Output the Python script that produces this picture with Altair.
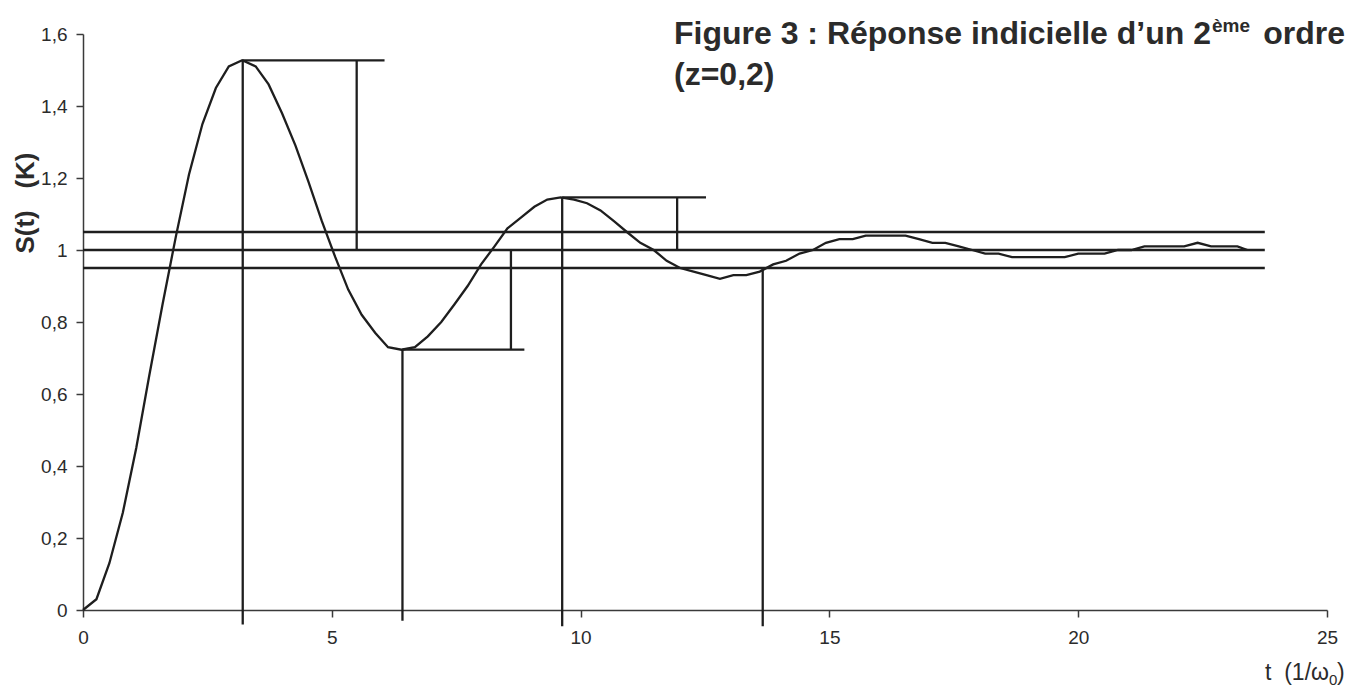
import altair as alt
import pandas as pd

# ---- data ----
t_vals = [0, 0.27, 0.53, 0.8, 1.07, 1.33, 1.6, 1.87, 2.13, 2.4,
          2.67, 2.93, 3.2, 3.47, 3.73, 4.0, 4.27, 4.53, 4.8, 5.07,
          5.33, 5.6, 5.87, 6.13, 6.4, 6.67, 6.93, 7.2, 7.47, 7.73,
          8.0, 8.27, 8.53, 8.8, 9.07, 9.33, 9.6, 9.87, 10.13, 10.4,
          10.67, 10.93, 11.2, 11.47, 11.73, 12.0, 12.27, 12.53, 12.8, 13.07,
          13.33, 13.6, 13.87, 14.13, 14.4, 14.67, 14.93, 15.2, 15.47, 15.73,
          16.0, 16.27, 16.53, 16.8, 17.07, 17.33, 17.6, 17.87, 18.13, 18.4,
          18.67, 18.93, 19.2, 19.47, 19.73, 20.0, 20.27, 20.53, 20.8, 21.07,
          21.33, 21.6, 21.87, 22.13, 22.4, 22.67, 22.93, 23.2, 23.4]
s_vals = [0.00, 0.03, 0.13, 0.27, 0.45, 0.65, 0.85, 1.04, 1.21, 1.35,
          1.45, 1.51, 1.527, 1.51, 1.46, 1.38, 1.29, 1.19, 1.08, 0.98,
          0.89, 0.82, 0.77, 0.73, 0.723, 0.73, 0.76, 0.80, 0.85, 0.90,
          0.96, 1.01, 1.06, 1.09, 1.12, 1.14, 1.146, 1.14, 1.13, 1.11,
          1.08, 1.05, 1.02, 1.00, 0.97, 0.95, 0.94, 0.93, 0.92, 0.93,
          0.93, 0.94, 0.96, 0.97, 0.99, 1.00, 1.02, 1.03, 1.03, 1.04,
          1.04, 1.04, 1.04, 1.03, 1.02, 1.02, 1.01, 1.00, 0.99, 0.99,
          0.98, 0.98, 0.98, 0.98, 0.98, 0.99, 0.99, 0.99, 1.00, 1.00,
          1.01, 1.01, 1.01, 1.01, 1.02, 1.01, 1.01, 1.01, 1.00]

# tolerance band lines (1 +/- 5 %)
band_y = [1.05, 1.0, 0.95]
band_x_end = 23.75

# construction segments
seg_x1 = [3.21, 3.21, 5.5, 6.42, 6.42, 8.6, 9.63, 9.63, 11.94, 13.66]
seg_x2 = [3.21, 6.06, 5.5, 6.42, 8.87, 8.6, 9.63, 12.52, 11.94, 13.66]
seg_y1 = [-0.04, 1.527, 1.0, -0.03, 0.723, 0.723, -0.045, 1.146, 1.0, -0.045]
seg_y2 = [1.527, 1.527, 1.527, 0.723, 0.723, 1.0, 1.146, 1.146, 1.146, 0.95]

x_ticks = [0, 5, 10, 15, 20, 25]
y_ticks = [0, 0.2, 0.4, 0.6, 0.8, 1.0, 1.2, 1.4, 1.6]

FONT = "Liberation Sans"
INK = "#1e1e1e"
TXT = "#2b2b2b"
AX = "#3a3a3a"

W, H = 1244, 576

xs = alt.Scale(domain=[0, 25], nice=False, zero=False)
ys = alt.Scale(domain=[0, 1.6], nice=False, zero=False)

x_axis = alt.Axis(title="", values=x_ticks, grid=False, tickSize=7,
                  labelPadding=11, labelFontSize=19, labelFont=FONT,
                  labelColor=TXT, domainColor=AX, tickColor=AX,
                  domainWidth=1.5, tickWidth=1.5, labelFlush=False)
y_axis = alt.Axis(title="", values=y_ticks, grid=False, tickSize=7,
                  labelPadding=9, labelFontSize=19, labelFont=FONT,
                  labelColor=TXT, domainColor=AX, tickColor=AX,
                  domainWidth=1.5, tickWidth=1.5, labelFlush=False,
                  labelExpr="replace(format(datum.value, '~g'), '.', ',')")

curve_df = pd.DataFrame({"t": t_vals, "s": s_vals})
band_df = pd.DataFrame({"y": band_y, "x1": [0] * len(band_y), "x2": [band_x_end] * len(band_y)})
seg_df = pd.DataFrame({"x1": seg_x1, "x2": seg_x2, "y1": seg_y1, "y2": seg_y2})

curve = alt.Chart(curve_df).mark_line(color=INK, strokeWidth=2.3).encode(
    x=alt.X("t:Q", scale=xs, axis=x_axis),
    y=alt.Y("s:Q", scale=ys, axis=y_axis),
)

band = alt.Chart(band_df).mark_rule(color=INK, strokeWidth=2.3).encode(
    x=alt.X("x1:Q", scale=xs, axis=x_axis),
    x2="x2:Q",
    y=alt.Y("y:Q", scale=ys, axis=y_axis),
)

segs = alt.Chart(seg_df).mark_rule(color=INK, strokeWidth=2.3).encode(
    x=alt.X("x1:Q", scale=xs, axis=x_axis),
    x2="x2:Q",
    y=alt.Y("y1:Q", scale=ys, axis=y_axis),
    y2="y2:Q",
)

one = pd.DataFrame({"k": [0]})


def label(text, x, y, size, bold=False, align="left", angle=0, baseline="alphabetic"):
    kw = dict(text=text, font=FONT, fontSize=size, color=TXT, align=align, baseline=baseline)
    if bold:
        kw["fontWeight"] = "bold"
    if angle:
        kw["angle"] = angle
    return alt.Chart(one).mark_text(**kw).encode(x=alt.value(x), y=alt.value(y))


texts = [
    label("Figure 3 : Réponse indicielle d\u2019un 2", 591, 10, 32, bold=True),
    label("ème", 1129, -2, 19, bold=True),
    label("ordre", 1262, 10, 32, bold=True, align="right"),
    label("(z=0,2)", 591, 51, 32, bold=True),
    label("S(t)\u00a0\u00a0\u00a0(K)", -57, 169, 26, bold=True, align="center", angle=270, baseline="middle"),
    label("t\u00a0\u00a0(1/\u03c9", 1246, 646, 23, align="right"),
    label("0", 1246, 651, 15),
    label(")", 1254, 646, 23),
]

chart = alt.layer(curve, band, segs, *texts).properties(
    width=W, height=H,
    padding={"left": 83, "top": 34, "right": 35, "bottom": 81},
    autosize=alt.AutoSizeParams(type="none"),
    background="white",
).configure_view(strokeWidth=0)

chart.save("out.html", embed_options={"renderer": "svg", "actions": False})
